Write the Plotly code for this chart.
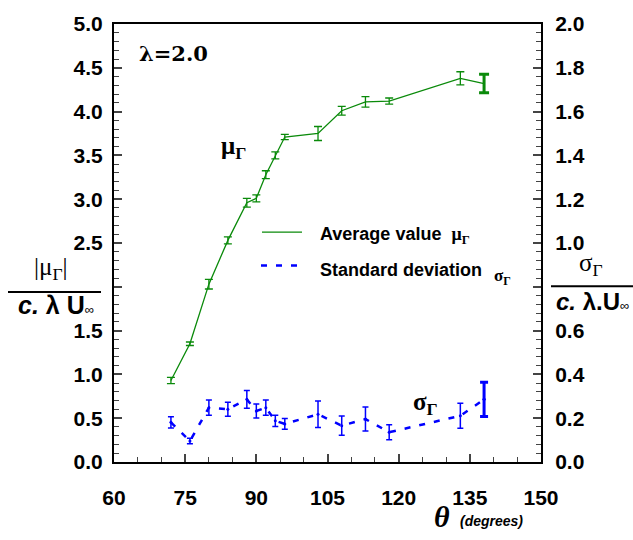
import plotly.graph_objects as go

theta = [72, 76, 80, 84, 88, 90, 92, 94, 96, 103, 108, 113, 118, 133, 138]
mu = [0.93, 1.35, 2.03, 2.53, 2.96, 3.01, 3.28, 3.50, 3.71, 3.75, 4.01, 4.11, 4.12, 4.38, 4.32]
mu_err = [0.035, 0.02, 0.055, 0.04, 0.05, 0.04, 0.045, 0.04, 0.03, 0.08, 0.05, 0.06, 0.035, 0.075, 0.105]
sigma = [0.181, 0.096, 0.248, 0.241, 0.286, 0.233, 0.248, 0.188, 0.174, 0.218, 0.166, 0.196, 0.136, 0.211, 0.286]
sigma_err = [0.026, 0.013, 0.035, 0.032, 0.04, 0.032, 0.035, 0.026, 0.025, 0.06, 0.044, 0.055, 0.034, 0.057, 0.078]

x_ticks = [60, 75, 90, 105, 120, 135, 150]
y_left_ticks = [0.0, 0.5, 1.0, 1.5, 2.0, 2.5, 3.0, 3.5, 4.0, 4.5, 5.0]
y_left_labels = ["0.0", "0.5", "1.0", "1.5", "", "2.5", "3.0", "3.5", "4.0", "4.5", "5.0"]
y_right_ticks = [0.0, 0.2, 0.4, 0.6, 0.8, 1.0, 1.2, 1.4, 1.6, 1.8, 2.0]
y_right_labels = ["0.0", "0.2", "0.4", "0.6", "", "1.0", "1.2", "1.4", "1.6", "1.8", "2.0"]

GREEN = "#0a8a0a"
BLUE = "#0000ff"
SANS = "Liberation Sans, Arial, sans-serif"
SERIF = "Liberation Serif, Times New Roman, serif"
WSERIF = "DejaVu Serif, serif"

W, H = 633, 540
L, R, T, B = 114, 541, 16, 462


def px(x):
    return (x - L) / (R - L)


def py(y):
    return (B - y) / (B - T)


fig = go.Figure()

fig.add_trace(go.Scatter(
    x=theta, y=mu, mode="lines", showlegend=False,
    line=dict(color=GREEN, width=1.3),
    error_y=dict(type="data", array=mu_err, color=GREEN, thickness=1.3, width=4),
))
fig.add_trace(go.Scatter(
    x=theta[-1:], y=mu[-1:], mode="lines", showlegend=False,
    line=dict(color=GREEN, width=1.3),
    error_y=dict(type="data", array=mu_err[-1:], color=GREEN, thickness=3, width=5),
))
fig.add_trace(go.Scatter(
    x=theta, y=sigma, mode="lines+markers", yaxis="y2", showlegend=False,
    line=dict(color=BLUE, width=2.5, dash="6px,9px"),
    marker=dict(color=BLUE, size=3),
    error_y=dict(type="data", array=sigma_err, color=BLUE, thickness=1.5, width=3),
))
fig.add_trace(go.Scatter(
    x=theta[-1:], y=sigma[-1:], mode="markers", yaxis="y2", showlegend=False,
    marker=dict(color=BLUE, size=3),
    error_y=dict(type="data", array=sigma_err[-1:], color=BLUE, thickness=3, width=4),
))

tickfont = dict(family=SANS, size=21, color="black", weight="bold")

fig.update_layout(
    width=W, height=H,
    margin=dict(l=L, r=W - R, t=T, b=H - B, pad=0),
    paper_bgcolor="white", plot_bgcolor="white",
    showlegend=False,
    xaxis=dict(
        range=[60, 150], tickvals=x_ticks, ticks="inside", ticklen=8, tickwidth=1.5,
        minor=dict(dtick=5, tick0=60, ticks="inside", ticklen=5, tickwidth=1),
        showline=True, linecolor="black", linewidth=2, mirror=True,
        showgrid=False, zeroline=False, tickfont=tickfont,
        ticklabelstandoff=16,
    ),
    yaxis=dict(
        range=[0, 5], tickvals=y_left_ticks, ticktext=y_left_labels,
        ticks="inside", ticklen=8, tickwidth=1.5,
        minor=dict(dtick=0.1, ticks="inside", ticklen=5, tickwidth=1),
        showline=True, linecolor="black", linewidth=2,
        showgrid=False, zeroline=False, tickfont=tickfont,
        ticklabelstandoff=5,
    ),
    yaxis2=dict(
        range=[0, 2], tickvals=y_right_ticks, ticktext=y_right_labels,
        ticks="inside", ticklen=8, tickwidth=1.5,
        minor=dict(dtick=0.04, ticks="inside", ticklen=5, tickwidth=1),
        overlaying="y", side="right",
        showline=True, linecolor="black", linewidth=2,
        showgrid=False, zeroline=False, tickfont=tickfont,
        ticklabelstandoff=8,
    ),
)

ann = []


def add(text, x, y, size, family=SANS, xanchor="center", yanchor="middle", **kw):
    ann.append(dict(text=text, x=px(x), y=py(y), xref="paper", yref="paper",
                    xanchor=xanchor, yanchor=yanchor, showarrow=False,
                    font=dict(family=family, size=size, color="black", **kw)))


add("λ=2.0", 173, 46, 21, WSERIF, weight="bold")
add("μ<sub>Γ</sub>", 233, 142, 25, SERIF, weight="bold")
add("σ<sub>Γ</sub>", 425, 402, 25, SERIF, weight="bold")
# legend
add("Average value  <span style='font-family:Liberation Serif'>μ<sub>Γ</sub></span>", 318, 231, 18,
    SANS, xanchor="left", weight="bold")
add("Standard deviation", 318, 267, 18, SANS, xanchor="left", weight="bold")
add("σ<sub>Γ</sub>", 502, 274, 17, SERIF, weight="bold")
# left y title
add("|μ<sub>Γ</sub>|", 51, 265, 25, SERIF)
add("<b><i>c.</i></b> <b>λ</b> <b>U</b><span style='font-size:13px'>∞</span>", 56, 302, 25, SANS)
# right y title
add("σ<sub>Γ</sub>", 591, 261, 25, SERIF)
add("<b><i>c.</i></b> <b>λ</b><b>.U</b><span style='font-size:13px'>∞</span>", 592, 299, 24, SANS)
# x title
add("<b><i>θ</i></b>", 442, 518, 30, SERIF)
add("<b><i>(degrees)</i></b>", 491, 522, 14, SANS)
fig.update_layout(annotations=ann)

shape_line = dict(color="black", width=2)
fig.add_shape(type="line", xref="paper", yref="paper", x0=px(8), x1=px(101), y0=py(289), y1=py(289),
              line=shape_line)
fig.add_shape(type="line", xref="paper", yref="paper", x0=px(551), x1=px(633), y0=py(283), y1=py(283),
              line=shape_line)
# legend samples
fig.add_shape(type="line", xref="paper", yref="paper", x0=px(262), x1=px(302), y0=py(228), y1=py(228),
              line=dict(color=GREEN, width=1.3))
fig.add_shape(type="line", xref="paper", yref="paper", x0=px(261), x1=px(304), y0=py(262), y1=py(262),
              line=dict(color=BLUE, width=2.5, dash="6px,9px"))

fig.write_html("out.html")
